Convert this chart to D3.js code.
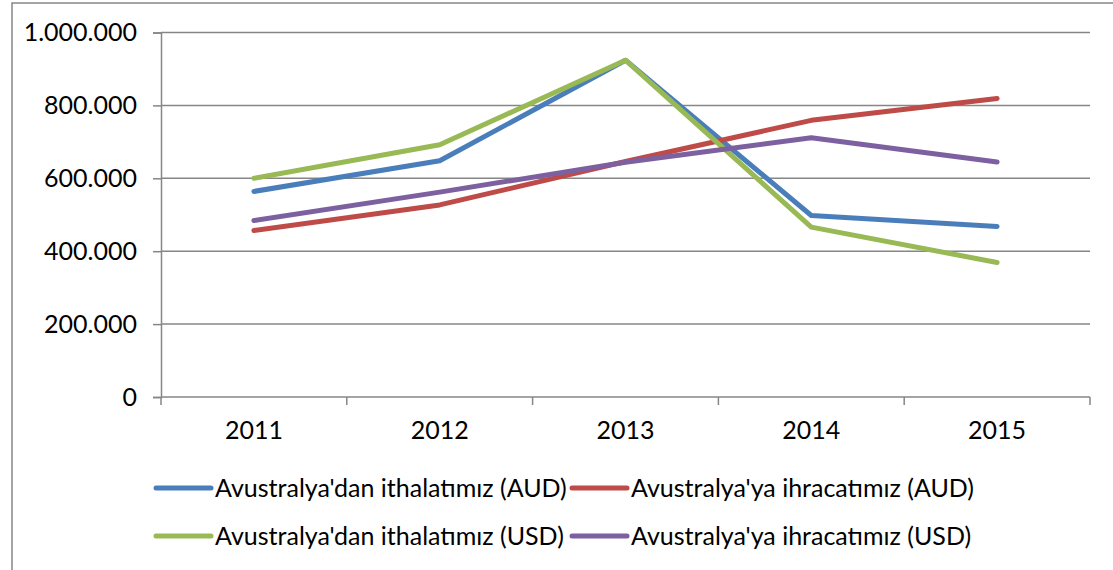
<!DOCTYPE html>
<meta charset="utf-8">
<script src="https://d3js.org/d3.v7.min.js"></script>
<style>
  body { margin: 0; background: #fff; }
  text { font-family: Lato, "Open Sans", sans-serif; fill: #000; }
</style>
<div id="chart"></div>
<script>

    // data
    var years = ["2011", "2012", "2013", "2014", "2015"];
    var importAUD = [564000, 648000, 924000, 498000, 468000];
    var exportAUD = [457000, 527000, 646000, 759000, 819000];
    var importUSD = [600000, 692000, 924000, 466000, 369000];
    var exportUSD = [484000, 562000, 644000, 711000, 645000];
    var seriesNames = [
        "Avustralya'dan ithalatımız (AUD)",
        "Avustralya'ya ihracatımız (AUD)",
        "Avustralya'dan ithalatımız (USD)",
        "Avustralya'ya ihracatımız (USD)"
    ];
    var yTicks = [0, 200000, 400000, 600000, 800000, 1000000];

    var series = [
        {name: seriesNames[0], values: importAUD, color: "#4a7ebb"},
        {name: seriesNames[1], values: exportAUD, color: "#be4b48"},
        {name: seriesNames[2], values: importUSD, color: "#98b954"},
        {name: seriesNames[3], values: exportUSD, color: "#7d60a0"}
    ];

    var width = 1113, height = 570;
    var plotLeft = 161, plotRight = 1090, plotTop = 32.5, plotBottom = 397;
    var fontSize = "25px";

    var tr = d3.formatLocale({decimal: ",", thousands: ".", grouping: [3], currency: ["", ""]});
    var fmt = tr.format(",d");

    var svg = d3.select("#chart")
        .append("svg")
            .attr("width", width)
            .attr("height", height);

    // chart frame (only left and top edges are visible)
    svg.append("path")
        .attr("d", "M12," + height + "V3H" + width)
        .attr("fill", "none")
        .attr("stroke", "#868686")
        .attr("stroke-width", 1.5);

    var x = d3.scaleBand()
        .domain(years)
        .range([plotLeft, plotRight]);

    var y = d3.scaleLinear()
        .domain([0, 1000000])
        .range([plotBottom, plotTop]);

    // horizontal grid lines
    svg.append("g")
        .selectAll("line")
        .data(yTicks.filter(function (d) { return d > 0; }))
        .enter().append("line")
        .attr("x1", plotLeft)
        .attr("x2", plotRight)
        .attr("y1", function (d) { return y(d); })
        .attr("y2", function (d) { return y(d); })
        .attr("stroke", "#868686")
        .attr("stroke-width", 1.5);

    // y axis
    var yAxis = svg.append("g")
        .attr("transform", "translate(" + plotLeft + ",0)")
        .call(d3.axisLeft(y).tickValues(yTicks).tickFormat(fmt).tickSize(8).tickPadding(16));
    yAxis.select(".domain").attr("stroke", "#868686").attr("stroke-width", 1.5);
    yAxis.selectAll(".tick line").attr("stroke", "#868686").attr("stroke-width", 1.5);
    yAxis.selectAll("text")
        .style("font-family", "Lato, sans-serif")
        .style("font-size", fontSize)
        .attr("fill", "#000");

    // x axis: line, ticks between categories, labels at centres
    var xAxis = svg.append("g");
    xAxis.append("line")
        .attr("x1", plotLeft).attr("x2", plotRight)
        .attr("y1", plotBottom).attr("y2", plotBottom)
        .attr("stroke", "#868686").attr("stroke-width", 1.5);
    var edges = years.map(function (d) { return x(d); }).concat([x(years[years.length - 1]) + x.bandwidth()]);
    xAxis.selectAll(".xt")
        .data(edges)
        .enter().append("line")
        .attr("x1", function (d) { return d; })
        .attr("x2", function (d) { return d; })
        .attr("y1", plotBottom)
        .attr("y2", plotBottom + 8)
        .attr("stroke", "#868686").attr("stroke-width", 1.5);
    xAxis.selectAll("text")
        .data(years)
        .enter().append("text")
        .attr("x", function (d) { return x(d) + x.bandwidth() / 2; })
        .attr("y", 439)
        .attr("text-anchor", "middle")
        .style("font-size", fontSize)
        .text(function (d) { return d; });

    // lines
    var line = d3.line()
        .x(function (d, i) { return x(years[i]) + x.bandwidth() / 2; })
        .y(function (d) { return y(d); });

    svg.append("g")
        .selectAll("path")
        .data(series)
        .enter().append("path")
        .attr("d", function (d) { return line(d.values); })
        .attr("fill", "none")
        .attr("stroke", function (d) { return d.color; })
        .attr("stroke-width", 5)
        .attr("stroke-linecap", "round")
        .attr("stroke-linejoin", "round");

    // legend
    var legendPos = [
        {sx: 156, ty: 488},
        {sx: 572, ty: 488},
        {sx: 156, ty: 536},
        {sx: 572, ty: 536}
    ];
    var legend = svg.append("g")
        .selectAll("g")
        .data(series)
        .enter().append("g")
        .attr("transform", function (d, i) { return "translate(" + legendPos[i].sx + "," + legendPos[i].ty + ")"; });
    legend.append("line")
        .attr("x1", 0).attr("x2", 55)
        .attr("stroke", function (d) { return d.color; })
        .attr("stroke-width", 5)
        .attr("stroke-linecap", "round");
    legend.append("text")
        .attr("x", 59)
        .attr("y", 8.5)
        .style("font-size", fontSize)
        .text(function (d) { return d.name; });

</script>
